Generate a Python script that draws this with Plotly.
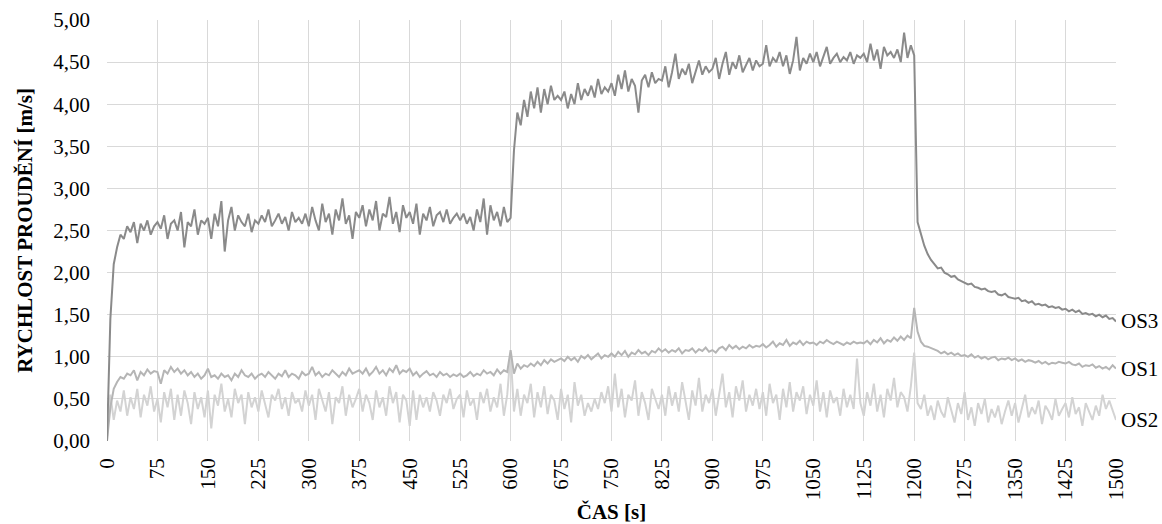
import plotly.graph_objects as go

# time axis [s], sampled every 5 s
time_s = list(range(0, 1501, 5))

os3 = [
    0.00, 1.45, 2.10, 2.30, 2.45, 2.40, 2.55, 2.48, 2.60, 2.35, 2.58, 2.50, 2.62, 2.45, 2.55,
    2.60, 2.52, 2.68, 2.40, 2.58, 2.62, 2.50, 2.72, 2.30, 2.60, 2.55, 2.75, 2.45, 2.62, 2.58,
    2.65, 2.40, 2.70, 2.55, 2.85, 2.25, 2.62, 2.78, 2.50, 2.68, 2.60, 2.55, 2.70, 2.48, 2.62,
    2.58, 2.68, 2.60, 2.75, 2.55, 2.62, 2.70, 2.58, 2.66, 2.50, 2.72, 2.60, 2.65, 2.58, 2.70,
    2.55, 2.78, 2.62, 2.50, 2.82, 2.60, 2.70, 2.45, 2.75, 2.62, 2.88, 2.58, 2.68, 2.40, 2.72,
    2.65, 2.80, 2.55, 2.75, 2.62, 2.85, 2.50, 2.70, 2.66, 2.90, 2.58, 2.72, 2.48, 2.80, 2.65,
    2.72, 2.58, 2.82, 2.45, 2.70, 2.62, 2.78, 2.55, 2.68, 2.72, 2.60, 2.75, 2.58, 2.65, 2.70,
    2.62, 2.70, 2.58, 2.66, 2.50, 2.75, 2.60, 2.88, 2.45, 2.80, 2.62, 2.72, 2.55, 2.78, 2.60,
    2.65, 3.45, 3.90, 3.75, 4.05, 3.85, 4.15, 3.95, 4.20, 3.90, 4.18, 4.00, 4.22, 4.05, 4.10,
    4.05, 4.15, 3.95, 4.12, 4.00, 4.25, 4.05, 4.18, 4.10, 4.22, 4.08, 4.30, 4.12, 4.20, 4.15,
    4.25, 4.10, 4.35, 4.18, 4.40, 4.15, 4.30, 4.22, 3.90, 4.28, 4.35, 4.20, 4.38, 4.25, 4.30,
    4.28, 4.45, 4.20, 4.38, 4.60, 4.30, 4.42, 4.35, 4.48, 4.25, 4.40, 4.52, 4.35, 4.45, 4.38,
    4.42, 4.55, 4.30, 4.48, 4.62, 4.35, 4.50, 4.42, 4.58, 4.38, 4.46, 4.55, 4.40, 4.52, 4.45,
    4.48, 4.70, 4.45, 4.55, 4.50, 4.62, 4.45, 4.58, 4.36, 4.52, 4.80, 4.40, 4.55, 4.48, 4.60,
    4.50, 4.62, 4.45, 4.58, 4.68, 4.48, 4.55, 4.60, 4.50, 4.56, 4.52, 4.62, 4.48, 4.58, 4.55,
    4.60, 4.50, 4.72, 4.52, 4.65, 4.42, 4.68, 4.58, 4.62, 4.55, 4.65, 4.50, 4.85, 4.55, 4.70,
    4.58, 2.60, 2.45, 2.32, 2.22, 2.15, 2.10, 2.05, 2.06, 2.00, 1.98, 1.95, 1.96, 1.92, 1.90,
    1.88, 1.86, 1.87, 1.83, 1.82, 1.80, 1.81, 1.78, 1.77, 1.78, 1.74, 1.73, 1.75, 1.71, 1.70,
    1.69, 1.70, 1.66, 1.67, 1.64, 1.66, 1.62, 1.63, 1.61, 1.62, 1.59, 1.60, 1.58, 1.59, 1.56,
    1.57, 1.54, 1.56, 1.53, 1.55, 1.51, 1.52, 1.50, 1.51, 1.48, 1.50, 1.47, 1.49, 1.45, 1.46,
    1.42,
]

os1 = [
    0.00, 0.40, 0.62, 0.70, 0.76, 0.74, 0.80, 0.78, 0.84, 0.72, 0.82, 0.78, 0.85, 0.80, 0.83,
    0.82, 0.68, 0.84, 0.80, 0.88, 0.82, 0.86, 0.80, 0.84, 0.78, 0.82, 0.76, 0.80, 0.74, 0.78,
    0.86, 0.76, 0.78, 0.74, 0.80, 0.76, 0.78, 0.72, 0.80, 0.76, 0.84, 0.78, 0.76, 0.80, 0.74,
    0.78, 0.80, 0.76, 0.82, 0.78, 0.74, 0.80, 0.77, 0.84, 0.76, 0.80, 0.78, 0.74, 0.82, 0.78,
    0.80, 0.88, 0.78, 0.82, 0.76, 0.80, 0.78, 0.84, 0.80, 0.76, 0.82, 0.78, 0.86, 0.80, 0.82,
    0.84, 0.80, 0.86, 0.78, 0.82, 0.88, 0.80, 0.84, 0.78, 0.86, 0.82, 0.90, 0.80, 0.84, 0.82,
    0.86, 0.78, 0.82, 0.76, 0.80, 0.83, 0.78, 0.80, 0.76, 0.82, 0.78, 0.80, 0.76, 0.79, 0.77,
    0.80, 0.76, 0.78, 0.82, 0.77, 0.80, 0.78, 0.84, 0.80, 0.82, 0.78, 0.85, 0.80, 0.84, 0.82,
    1.08, 0.80, 0.92, 0.86, 0.90, 0.88, 0.92, 0.89, 0.94, 0.90, 0.96, 0.92, 0.97, 0.94, 0.96,
    0.98, 0.95, 1.00, 0.96, 0.99, 0.94, 1.01, 0.98, 1.02, 0.97, 1.00, 1.04, 0.98, 1.02, 1.00,
    1.04, 1.00, 1.06, 1.02, 1.07, 1.00, 1.05, 1.03, 1.08, 1.04, 1.06, 1.02, 1.07, 1.05, 1.10,
    1.06, 1.09, 1.05, 1.08, 1.06, 1.10, 1.04, 1.08, 1.07, 1.10, 1.05, 1.09, 1.07, 1.11, 1.06,
    1.08, 1.05, 1.10, 1.12, 1.08, 1.14, 1.10, 1.13, 1.09, 1.12, 1.10, 1.14, 1.11, 1.13, 1.12,
    1.15, 1.11, 1.14, 1.18, 1.12, 1.16, 1.14, 1.20, 1.13, 1.17, 1.15, 1.19, 1.14, 1.18, 1.16,
    1.17, 1.14, 1.18, 1.16, 1.20, 1.17, 1.15, 1.18, 1.16, 1.14, 1.17, 1.15, 1.18, 1.16, 1.17,
    1.16, 1.19, 1.15, 1.20, 1.17, 1.22, 1.16, 1.20, 1.18, 1.23, 1.19, 1.24, 1.20, 1.25, 1.22,
    1.58, 1.30, 1.18, 1.13, 1.12, 1.10, 1.09, 1.07, 1.04, 1.06, 1.03, 1.05, 1.02, 1.04, 1.01,
    1.02, 1.00, 1.03, 0.99, 1.01, 0.98, 1.00, 0.97, 0.99, 1.00, 0.96, 0.98, 0.97, 0.99, 0.96,
    0.98, 0.95, 0.97, 0.94, 0.96, 0.95, 0.93, 0.95, 0.92, 0.94, 0.91, 0.93, 0.92, 0.94, 0.93,
    0.92, 0.94, 0.91, 0.90, 0.92, 0.88, 0.90, 0.89, 0.91, 0.87, 0.89, 0.86, 0.88, 0.85, 0.90,
    0.86,
]

os2 = [
    0.05, 0.55, 0.25, 0.48, 0.35, 0.60, 0.30, 0.52, 0.38, 0.62, 0.28, 0.55, 0.42, 0.65, 0.35,
    0.50, 0.22, 0.58, 0.40, 0.62, 0.25, 0.55, 0.30, 0.60, 0.45, 0.20, 0.58, 0.38, 0.52, 0.28,
    0.60, 0.15, 0.55, 0.42, 0.68, 0.35, 0.50, 0.28, 0.62, 0.45, 0.55, 0.20, 0.58, 0.40, 0.52,
    0.35, 0.60, 0.45, 0.28, 0.55, 0.48, 0.62, 0.38, 0.52, 0.30, 0.58, 0.45, 0.50, 0.35, 0.60,
    0.42, 0.55, 0.25, 0.62, 0.48, 0.35, 0.58, 0.20, 0.52, 0.45, 0.65, 0.30, 0.55, 0.40, 0.50,
    0.62, 0.35, 0.55, 0.45, 0.25, 0.60, 0.40, 0.52, 0.30, 0.65, 0.45, 0.58, 0.22, 0.55, 0.48,
    0.18, 0.60, 0.25, 0.55, 0.40, 0.52, 0.35, 0.58, 0.48, 0.30, 0.55, 0.45, 0.62, 0.38, 0.50,
    0.55, 0.28, 0.60, 0.42, 0.50, 0.25, 0.58, 0.45, 0.62, 0.35, 0.52, 0.40, 0.68, 0.30, 0.55,
    1.05, 0.35, 0.62, 0.30, 0.55, 0.45, 0.68, 0.28, 0.58, 0.40, 0.65, 0.32, 0.55, 0.48, 0.25,
    0.62, 0.38, 0.55, 0.22, 0.70, 0.42, 0.55, 0.30, 0.45, 0.35, 0.50, 0.38, 0.58, 0.45, 0.65,
    0.35, 0.80, 0.40, 0.62, 0.28, 0.55, 0.48, 0.72, 0.30, 0.58, 0.45, 0.25, 0.62, 0.50, 0.38,
    0.55, 0.30, 0.65, 0.42, 0.58, 0.35, 0.70, 0.48, 0.25, 0.60, 0.42, 0.75, 0.35, 0.55, 0.45,
    0.62, 0.30, 0.55, 0.80, 0.40, 0.58, 0.28, 0.65, 0.48, 0.72, 0.35, 0.55, 0.42, 0.62, 0.38,
    0.58, 0.30, 0.68, 0.45, 0.55, 0.25, 0.62, 0.40, 0.70, 0.35, 0.58, 0.48, 0.65, 0.32, 0.55,
    0.42, 0.72, 0.35, 0.58, 0.28, 0.60, 0.45, 0.52, 0.30, 0.62, 0.40, 0.55, 0.38, 0.98, 0.45,
    0.30, 0.58, 0.42, 0.68, 0.35, 0.55, 0.28, 0.62, 0.48, 0.75, 0.40, 0.58, 0.52, 0.35, 0.65,
    1.05, 0.45, 0.38, 0.55, 0.30, 0.42, 0.25, 0.48, 0.35, 0.28, 0.52, 0.38, 0.22, 0.45, 0.32,
    0.58, 0.25, 0.40, 0.18, 0.45, 0.32, 0.50, 0.22, 0.38, 0.28, 0.42, 0.20, 0.35, 0.48, 0.30,
    0.45, 0.22, 0.38, 0.55, 0.28, 0.40, 0.32, 0.48, 0.20, 0.42, 0.35, 0.25, 0.50, 0.30, 0.38,
    0.45, 0.28, 0.52, 0.32, 0.40, 0.18, 0.45, 0.35, 0.25, 0.42, 0.30, 0.55, 0.38, 0.48, 0.35,
    0.25,
]

series_names = ["OS3", "OS1", "OS2"]
series_values = [os3, os1, os2]
series_colors = ["#8a8a8a", "#b5b5b5", "#d3d3d3"]

x_ticks = list(range(0, 1501, 75))
y_ticks = [0, 0.5, 1, 1.5, 2, 2.5, 3, 3.5, 4, 4.5, 5]

FONT = "Liberation Serif, Times New Roman, serif"

fig = go.Figure()
# draw OS2 first so darker lines sit on top
for name, vals, col in reversed(list(zip(series_names, series_values, series_colors))):
    fig.add_trace(go.Scatter(x=time_s, y=vals, mode="lines", name=name,
                             line=dict(color=col, width=2), showlegend=False))

for name, vals, col in zip(series_names, series_values, series_colors):
    fig.add_annotation(x=time_s[-1], y=vals[-1], text=name, showarrow=False,
                       xanchor="left", yanchor="middle", xshift=3,
                       font=dict(family=FONT, size=21, color="#000000"))

fig.update_layout(
    width=1162, height=524,
    margin=dict(l=107, r=46, t=20, b=83, autoexpand=False),
    paper_bgcolor="white", plot_bgcolor="white",
    separators=",.",
    font=dict(family=FONT, size=21, color="#000000"),
)
fig.update_xaxes(
    range=[0, 1500], tickmode="array", tickvals=x_ticks,
    ticktext=[str(v) for v in x_ticks], tickangle=-90,
    showgrid=True, gridcolor="#d9d9d9", gridwidth=1,
    showline=False, zeroline=False, ticks="", ticklabelstandoff=12,
    tickfont=dict(family=FONT, size=21),
    title=dict(text="<b>ČAS [s]</b>", font=dict(family=FONT, size=21), standoff=5),
    automargin=False,
)
fig.update_yaxes(
    range=[0, 5], tickmode="array", tickvals=y_ticks, tickformat=".2f",
    showgrid=True, gridcolor="#d9d9d9", gridwidth=1,
    showline=False, zeroline=False, ticks="", ticklabelstandoff=16,
    tickfont=dict(family=FONT, size=21),
    title=dict(text="<b>RYCHLOST PROUDĚNÍ [m/s]</b>", font=dict(family=FONT, size=21), standoff=14),
    automargin=False,
)

# remove the default page margin so the 1162x524 figure fills the window exactly
fig.write_html(
    "out.html",
    config={"displayModeBar": False},
    post_script="document.body.style.margin='0';document.body.style.overflow='hidden';",
)
